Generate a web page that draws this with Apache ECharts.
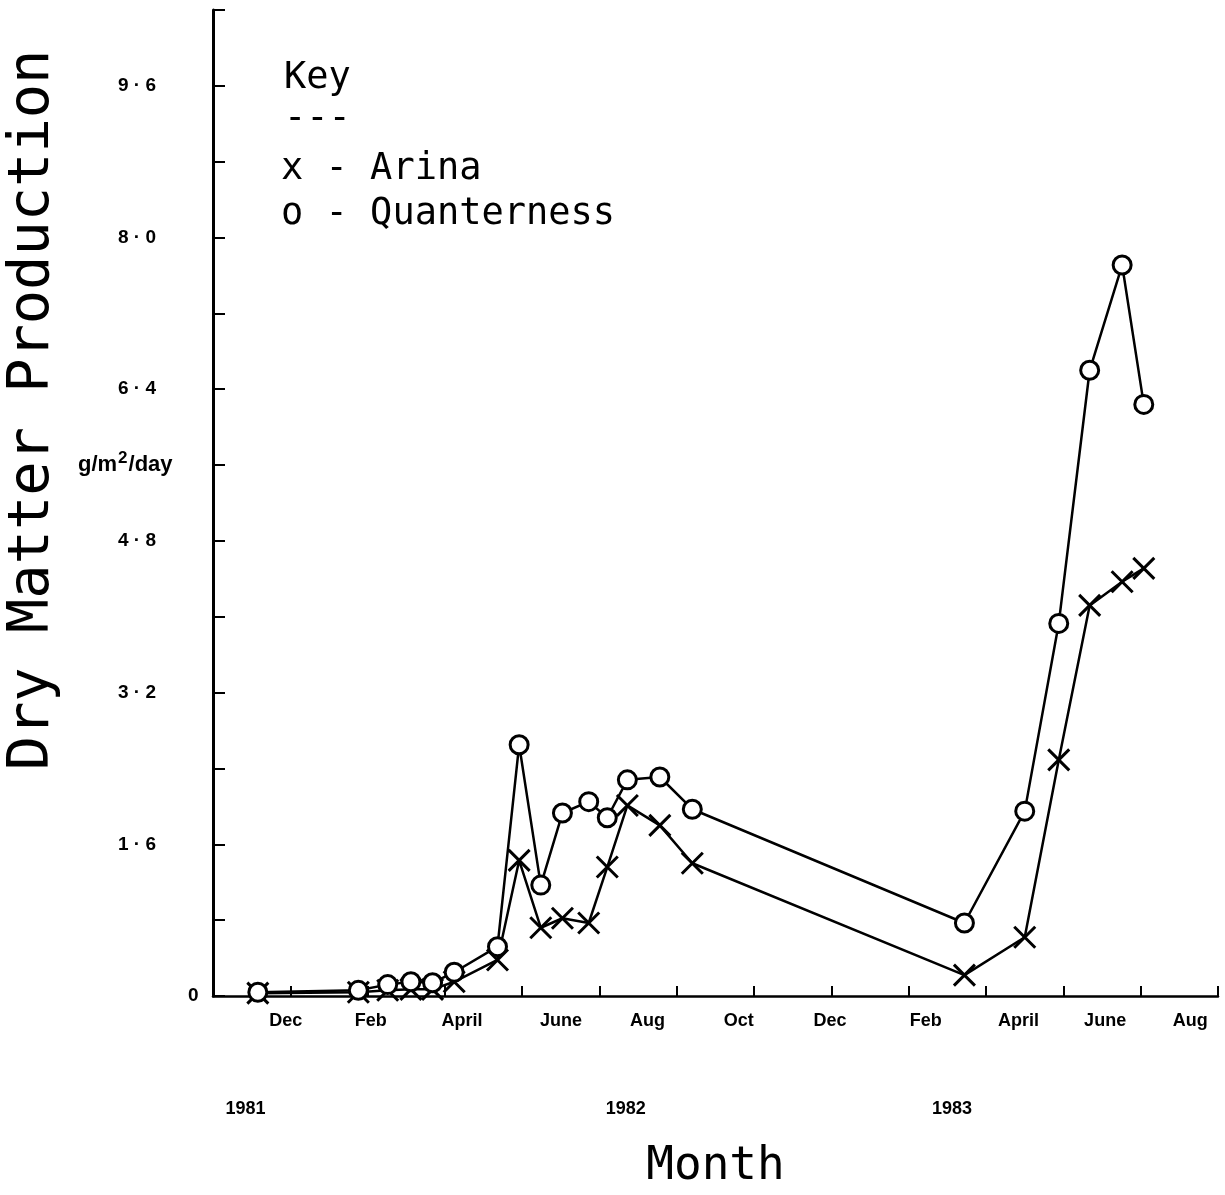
<!DOCTYPE html>
<html>
<head>
<meta charset="utf-8">
<script src="https://cdn.jsdelivr.net/npm/echarts@6/dist/echarts.min.js"></script>
<style>
html,body{margin:0;padding:0;background:#fff;}
#chart{width:1225px;height:1195px;}
</style>
</head>
<body>
<div id="chart"></div>
<script>
// Sampling dates, in days from the start of the axis (each axis tick = 50 days)
const sampleDays = [29, 94, 113, 128, 142, 156, 184, 198, 212, 226, 243, 255, 268, 289, 310, 486, 525, 547, 567, 588, 602];
// Dry matter production, g/m2/day
const arina       = [0.03, 0.04, 0.06, 0.07, 0.07, 0.15, 0.38, 1.43, 0.72, 0.82, 0.77, 1.36, 2.01, 1.80, 1.40, 0.22, 0.62, 2.49, 4.12, 4.37, 4.51];
const quanterness = [0.04, 0.06, 0.12, 0.15, 0.14, 0.25, 0.52, 2.65, 1.17, 1.93, 2.05, 1.88, 2.28, 2.31, 1.97, 0.77, 1.95, 3.93, 6.60, 7.71, 6.24];
// Month tick labels and where they sit on the day axis
const monthLabels = ['Dec', 'Feb', 'April', 'June', 'Aug', 'Oct', 'Dec', 'Feb', 'April', 'June', 'Aug'];
const monthDays   = [47, 102, 161, 225, 281, 340, 399, 461, 521, 577, 632];
// Year labels
const yearLabels = ['1981', '1982', '1983'];
const yearDays   = [21, 267, 478];
// Labelled y ticks (every second tick)
const yLabelStep = 1.6;

const plotFont = '"DejaVu Sans Mono", monospace';
const labelFont = '"Liberation Sans", Arial, sans-serif';

const chart = echarts.init(document.getElementById('chart'), null, {renderer: 'canvas'});

function pairs(xs, ys) { return xs.map((x, i) => [x, ys[i]]); }

const option = {
  backgroundColor: '#fff',
  animation: false,
  title: {
    left: 279, top: 55,
    text: 'Key',
    subtext: '---',
    itemGap: 4,
    textStyle: {fontFamily: plotFont, fontSize: 37, fontWeight: 'normal', color: '#000'},
    subtextStyle: {fontFamily: plotFont, fontSize: 37, color: '#000'}
  },
  legend: {
    orient: 'vertical',
    left: 270, top: 146,
    itemWidth: 0, itemHeight: 0,
    itemGap: 8,
    selectedMode: false,
    data: ['Arina', 'Quanterness'],
    formatter: function (name) { return (name === 'Arina' ? 'x' : 'o') + ' - ' + name; },
    textStyle: {fontFamily: plotFont, fontSize: 37, color: '#000'}
  },
  grid: {left: 213, right: 7, top: 10, bottom: 199, containLabel: false},
  xAxis: [
    {
      type: 'value', min: 0, max: 650, interval: 50,
      position: 'bottom',
      name: 'Month', nameLocation: 'middle', nameGap: 148,
      nameTextStyle: {fontFamily: plotFont, fontSize: 46, color: '#000'},
      axisLine: {show: true, onZero: false, lineStyle: {color: '#000', width: 2.5}},
      axisTick: {show: true, inside: true, length: 10, lineStyle: {color: '#000', width: 2}},
      axisLabel: {show: false},
      splitLine: {show: false}
    },
    {
      type: 'value', min: 0, max: 650,
      position: 'bottom',
      axisLine: {show: false}, axisTick: {show: false}, splitLine: {show: false},
      axisLabel: {
        show: true, margin: 16,
        customValues: monthDays,
        formatter: function (v) { const i = monthDays.indexOf(Math.round(v)); return i >= 0 ? monthLabels[i] : ''; },
        fontFamily: labelFont, fontWeight: 'bold', fontSize: 18, color: '#000'
      }
    },
    {
      type: 'value', min: 0, max: 650,
      position: 'bottom', offset: 88,
      axisLine: {show: false}, axisTick: {show: false}, splitLine: {show: false},
      axisLabel: {
        show: true, margin: 16,
        customValues: yearDays,
        formatter: function (v) { const i = yearDays.indexOf(Math.round(v)); return i >= 0 ? yearLabels[i] : ''; },
        fontFamily: labelFont, fontWeight: 'bold', fontSize: 18, color: '#000'
      }
    }
  ],
  yAxis: {
    type: 'value', min: 0, max: 10.4, interval: 0.8,
    axisLine: {show: true, lineStyle: {color: '#000', width: 3}},
    axisTick: {show: true, inside: true, length: 12, lineStyle: {color: '#000', width: 2}},
    splitLine: {show: false},
    axisLabel: {
      align: 'left',
      margin: 95,
      formatter: function (v) {
        if (Math.abs(v) < 1e-9) return '{z|0}';
        const r = v / yLabelStep;
        if (Math.abs(r - Math.round(r)) > 1e-6) return '';
        const s = v.toFixed(1).split('.');
        return s[0] + ' · ' + s[1];
      },
      rich: {z: {padding: [0, 0, 0, 70], fontFamily: labelFont, fontWeight: 'bold', fontSize: 19, color: '#000'}},
      fontFamily: labelFont, fontWeight: 'bold', fontSize: 19, color: '#000'
    }
  },
  graphic: [
    {
      type: 'text', x: 33, y: 410, rotation: Math.PI / 2,
      style: {text: 'Dry Matter Production', fontFamily: plotFont, fontSize: 57, fill: '#000',
              textAlign: 'center', textVerticalAlign: 'middle'}
    },
    {
      type: 'text', left: 78, top: 450,
      style: {
        text: '{a|g/m}{s|2}{a|/day}',
        rich: {
          a: {fontFamily: labelFont, fontWeight: 'bold', fontSize: 22, fill: '#000'},
          s: {fontFamily: labelFont, fontWeight: 'bold', fontSize: 17, fill: '#000', padding: [0, 1, 13, 1]}
        }
      }
    }
  ],
  series: [
    {
      name: 'Arina', type: 'line', xAxisIndex: 0,
      data: pairs(sampleDays, arina),
      symbol: 'path://M0,0L20,20M20,0L0,20',
      symbolSize: 21,
      lineStyle: {color: '#000', width: 2.5},
      itemStyle: {color: '#000', borderColor: '#000', borderWidth: 3},
      z: 3
    },
    {
      name: 'Quanterness', type: 'line', xAxisIndex: 0,
      data: pairs(sampleDays, quanterness),
      symbol: 'circle',
      symbolSize: 18,
      lineStyle: {color: '#000', width: 2.5},
      itemStyle: {color: '#fff', borderColor: '#000', borderWidth: 3},
      z: 4
    }
  ]
};
chart.setOption(option);
</script>
</body>
</html>
